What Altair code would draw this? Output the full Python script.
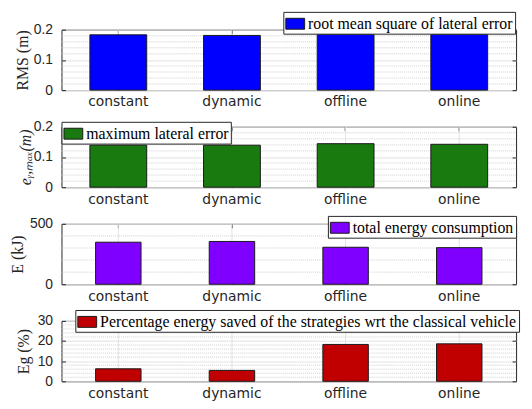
import altair as alt
import pandas as pd

categories = ["constant", "dynamic", "offline", "online"]
rms_values = [0.183, 0.181, 0.184, 0.184]
emax_values = [0.139, 0.139, 0.144, 0.142]
energy_values = [348, 354, 306, 303]
saved_values = [6.2, 5.4, 18.3, 18.6]

series_names = [
    "root mean square of lateral error",
    "maximum lateral error",
    "total energy consumption",
    "Percentage energy saved of the strategies wrt the classical vehicle",
]
series_colors = ["#0000ff", "#187a0f", "#7f00ff", "#c00000"]
y_titles = ["RMS (m)", "eᵧ,ₘₐₓ(m)", "E (kJ)", "Eg (%)"]
y_title_styles = ["normal", "italic", "normal", "normal"]
y_title_pads = [3, 0, 4.5, 5.5]
y_domains = [[0, 0.2], [0, 0.2], [0, 500], [0, 30]]
y_major = [[0, 0.1, 0.2], [0, 0.1, 0.2], [0, 500], [0, 10, 20, 30]]
y_minor = [
    [0.02, 0.04, 0.06, 0.08, 0.12, 0.14, 0.16, 0.18],
    [0.02, 0.04, 0.06, 0.08, 0.12, 0.14, 0.16, 0.18],
    [100, 200, 300, 400],
    [2, 4, 6, 8, 12, 14, 16, 18, 22, 24, 26, 28],
]
legend_pos = [(224, -18), (0, -5), (269, -8), (14, -11)]
band_pad = [(0.5, 0.25), (0.5, 0.25), (0.6, 0.3), (0.6, 0.3)]
all_values = [rms_values, emax_values, energy_values, saved_values]

W, H = 459, 61
TICK = 4
AX = "#262626"
GRID = "#e2e2e2"


def panel(i):
    df = pd.DataFrame({"category": categories, "value": all_values[i], "series": series_names[i]})
    minor_df = pd.DataFrame({"value": y_minor[i]})
    pin, pout = band_pad[i]
    xscale = alt.Scale(domain=categories, paddingInner=pin, paddingOuter=pout)
    yscale = alt.Scale(domain=y_domains[i], nice=False, zero=True)

    # vertical grid lines at the categories, with inside ticks along the top edge
    xgrid = alt.Chart(df).mark_rule(color=GRID, strokeWidth=1).encode(
        x=alt.X("category:N", sort=categories, scale=xscale,
                axis=alt.Axis(orient="top", title=None, labels=False, grid=False, domain=False,
                              ticks=True, tickSize=TICK, offset=-TICK, tickColor=AX,
                              bandPosition=0.5)),
    )
    # dotted minor grid, with inside ticks along the right edge
    minor = alt.Chart(minor_df).mark_rule(strokeDash=[1, 1], color="#d0d0d0", strokeWidth=1).encode(
        y=alt.Y("value:Q", scale=yscale,
                axis=alt.Axis(orient="right", values=y_major[i], title=None, labels=False,
                              grid=False, domain=False, ticks=True, tickSize=TICK,
                              offset=-TICK, tickColor=AX)),
    )
    lx, ly = legend_pos[i]
    bars = alt.Chart(df).mark_bar(stroke="#1a1a1a", strokeWidth=1, opacity=1).encode(
        x=alt.X("category:N", sort=categories, scale=xscale,
                axis=alt.Axis(title=None, labelAngle=0, grid=False,
                              ticks=True, tickSize=TICK, offset=-TICK, tickColor=AX,
                              domain=False, labelPadding=5, bandPosition=0.5,
                              labelFont="DejaVu Sans", labelFontSize=14)),
        y=alt.Y("value:Q", scale=yscale,
                axis=alt.Axis(values=y_major[i], format=".6~g", title=y_titles[i], grid=True,
                              gridColor=GRID, ticks=True, tickSize=TICK, offset=-TICK,
                              tickColor=AX, domain=False, labelPadding=9,
                              titlePadding=y_title_pads[i], titleFontStyle=y_title_styles[i],
                              labelFont="Liberation Sans", labelFontSize=14)),
        color=alt.Color(
            "series:N",
            scale=alt.Scale(domain=[series_names[i]], range=[series_colors[i]]),
            legend=alt.Legend(
                orient="none", legendX=lx, legendY=ly, title=None,
                symbolType="M-1,-0.58H1V0.58H-1Z", symbolSize=361,
                symbolStrokeColor="#1a1a1a", symbolStrokeWidth=1, symbolOpacity=1,
                labelFont="Liberation Serif", labelFontSize=16, labelColor="black",
                labelLimit=1000, labelOffset=3,
                strokeColor=AX, fillColor="white", padding=2,
            ),
        ),
    )
    return (
        alt.layer(xgrid, minor, bars)
        .resolve_axis(x="independent", y="independent")
        .properties(width=W, height=H)
    )


chart = (
    alt.vconcat(*[panel(i) for i in range(4)], spacing=37, bounds="flush")
    .resolve_scale(color="independent", y="independent", x="independent")
    .resolve_legend(color="independent")
    .configure_view(stroke=AX, strokeWidth=1)
    .configure_axis(labelColor=AX,
                    titleFont="Liberation Serif", titleFontSize=16, titleFontWeight="normal",
                    titleColor=AX)
    .properties(background="white", padding={"left": 0, "top": 1, "right": 4, "bottom": 0})
)

chart.save("out.html", embed_options={"renderer": "svg", "actions": False})
